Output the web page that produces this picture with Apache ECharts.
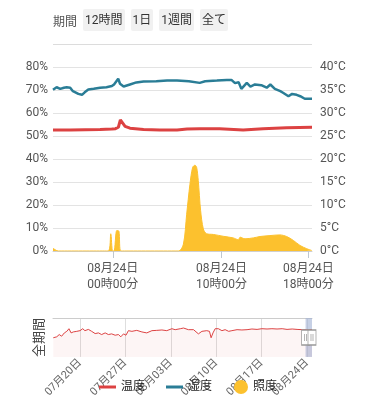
<!DOCTYPE html>
<html>
<head>
<meta charset="utf-8">
<script src="https://cdn.jsdelivr.net/npm/echarts@6/dist/echarts.min.js"></script>
<style>
  html, body { margin: 0; padding: 0; background: #fff; }
  #wrap { position: relative; width: 370px; height: 400px; overflow: hidden; }
  #chart { position: absolute; left: 0; top: 0; width: 370px; height: 400px; }
  #bar { position: absolute; left: 53px; top: 9px; height: 22px; display: flex; align-items: center;
         font-family: Roboto, "Noto Sans CJK JP", sans-serif; font-size: 12px; color: #333; z-index: 2; }
  #bar .lbl { color: #555; margin-right: 6px; }
  #bar .btn { background: #f1f1f1; height: 22px; line-height: 22px; padding: 0 2px; margin-right: 6px; border-radius: 2px; }
  #sep { position: absolute; left: 53px; top: 44px; width: 259px; height: 1px; background: #dcdcdc; z-index: 2; }
</style>
</head>
<body>
<div id="wrap">
  <div id="chart"></div>
  <div id="bar"><span class="lbl">期間</span><span class="btn">12時間</span><span class="btn">1日</span><span class="btn">1週間</span><span class="btn">全て</span></div>
  <div id="sep"></div>
</div>
<script>
// ---- data (year assumed 2023) ----
const windowStart = '08-23 18:30';
const windowEnd = '08-24 18:20';
const mainTicks = ['08-24 00:00', '08-24 10:00', '08-24 18:00'];

const humidityTimes = ['08-23 18:30','08-23 18:50','08-23 19:10','08-23 19:30','08-23 19:45','08-23 20:05','08-23 20:20','08-23 20:50','08-23 21:10','08-23 21:25','08-23 21:45','08-23 22:15','08-23 22:50','08-23 23:25','08-23 23:55','08-24 00:07','08-24 00:16','08-24 00:30','08-24 00:40','08-24 01:00','08-24 01:35','08-24 02:10','08-24 02:50','08-24 04:00','08-24 05:00','08-24 05:55','08-24 07:00','08-24 08:00','08-24 08:30','08-24 09:35','08-24 10:30','08-24 10:55','08-24 11:15','08-24 11:35','08-24 11:50','08-24 12:20','08-24 12:40','08-24 13:05','08-24 13:40','08-24 14:10','08-24 14:30','08-24 14:55','08-24 15:25','08-24 15:40','08-24 16:10','08-24 16:30','08-24 16:55','08-24 17:15','08-24 17:40','08-24 18:20'];
const humidity = [70.1,71.2,70.5,71.0,71.2,71.0,69.5,68.3,67.9,69.0,70.2,70.5,71.0,71.2,71.7,72.4,72.0,74.9,72.7,71.5,72.4,73.3,73.7,73.8,74.1,74.1,73.8,73.1,73.8,74.1,74.4,74.4,73.0,73.4,70.5,73.1,71.5,72.4,72.1,71.0,72.4,70.5,69.5,68.8,67.3,68.3,67.9,67.3,66.2,66.2];

const temperatureTimes = ['08-23 18:30','08-23 20:05','08-23 22:50','08-23 23:55','08-24 00:15','08-24 00:31','08-24 00:42','08-24 00:55','08-24 01:08','08-24 01:35','08-24 02:50','08-24 04:20','08-24 05:55','08-24 06:50','08-24 08:00','08-24 09:50','08-24 12:00','08-24 13:50','08-24 16:00','08-24 18:20'];
const temperature = [26.3,26.3,26.4,26.5,26.6,26.9,28.5,27.8,27.1,26.7,26.4,26.3,26.3,26.5,26.55,26.55,26.3,26.6,26.8,26.9];

const lightTimes = ['08-23 18:30','08-23 18:59','08-23 23:35','08-23 23:49','08-23 23:59','08-24 00:07','08-24 00:22','08-24 00:34','08-24 00:45','08-24 06:02','08-24 06:30','08-24 06:48','08-24 07:06','08-24 07:21','08-24 07:34','08-24 07:43','08-24 07:52','08-24 08:05','08-24 08:20','08-24 08:38','08-24 09:15','08-24 10:10','08-24 11:05','08-24 11:33','08-24 11:43','08-24 12:10','08-24 12:56','08-24 13:33','08-24 14:28','08-24 15:23','08-24 16:00','08-24 16:37','08-24 17:14','08-24 17:51','08-24 18:19'];
const light = [1.2,0,0,7.5,0,0,8.9,8.6,0,0,3.0,16.0,29.0,36.4,37.3,36.4,30.7,17.6,9.6,7.5,7.2,6.4,5.7,4.9,6.0,5.3,5.7,6.3,6.7,7.0,6.3,4.6,2.4,1.0,0.2];

const overviewMin = '07-15 20:00';
const overviewMax = '08-24 18:20';
const overviewTicks = ['07-20 00:00','07-27 00:00','08-03 00:00','08-10 00:00','08-17 00:00','08-24 00:00'];
const overviewTimes = ['07-15 21:00','07-16 10:00','07-16 19:00','07-17 04:00','07-17 14:00','07-17 23:00','07-18 07:00','07-18 15:00','07-18 23:00','07-19 12:00','07-20 00:00','07-20 10:00','07-20 18:00','07-21 07:00','07-21 19:00','07-22 08:00','07-22 20:00','07-23 08:00','07-23 21:00','07-24 09:00','07-24 21:00','07-25 10:00','07-25 22:00','07-26 07:00','07-26 17:00','07-27 02:00','07-27 11:00','07-28 00:00','07-28 18:00','07-29 13:00','07-30 07:00','07-31 02:00','07-31 20:00','08-01 15:00','08-02 09:00','08-03 04:00','08-03 16:00','08-04 11:00','08-04 23:00','08-05 17:00','08-06 12:00','08-07 06:00','08-07 19:00','08-08 13:00','08-08 23:00','08-09 05:00','08-09 12:00','08-09 20:00','08-10 08:00','08-10 21:00','08-11 09:00','08-11 22:00','08-12 10:00','08-13 05:00','08-13 23:00','08-14 18:00','08-15 12:00','08-16 07:00','08-17 01:00','08-17 20:00','08-18 14:00','08-19 09:00','08-20 04:00','08-20 22:00','08-21 17:00','08-22 11:00','08-23 06:00','08-23 22:00','08-24 18:20'];
const overviewTemp = [19.7,20.7,23.0,21.3,24.7,26.3,29.0,24.7,25.7,26.3,27.0,29.0,27.0,28.3,26.3,24.0,24.7,23.0,24.7,23.0,23.7,22.3,23.0,20.7,23.7,22.3,27.0,26.3,27.3,25.7,24.7,27.0,27.3,27.7,27.0,29.0,28.0,29.0,29.7,28.0,28.0,23.7,26.3,27.0,26.3,19.7,24.7,29.0,29.0,27.0,28.0,26.3,27.0,28.0,27.7,28.0,28.7,28.3,29.0,28.7,29.0,28.7,29.0,28.3,28.7,28.3,28.0,28.0,28.0];

const legendNames = ['温度', '湿度', '照度'];

// ---- helpers ----
const toTs = s => new Date('2023-' + s.replace(' ', 'T') + ':00').getTime();
const zip = (ts, vs) => ts.map((t, i) => [toTs(t), vs[i]]);
const p2 = n => String(n).padStart(2, '0');

const FONT = 'Roboto, "Noto Sans CJK JP", sans-serif';
const RED = '#dc4242', TEAL = '#2a7d96', YEL = '#fcc12e';
const legendText = { fontSize: 12, color: '#222', fontFamily: FONT, lineHeight: 14 };

const chart = echarts.init(document.getElementById('chart'), null, { renderer: 'canvas' });
chart.setOption({
  animation: false,
  textStyle: { fontFamily: FONT },
  legend: [
    {
      left: 94, top: 375, itemWidth: 17, itemHeight: 3, itemGap: 21, icon: 'rect',
      textStyle: legendText,
      data: [legendNames[0], legendNames[1]]
    },
    {
      left: 229, top: 375, itemWidth: 14, itemHeight: 14, icon: 'circle',
      textStyle: legendText,
      data: [legendNames[2]]
    }
  ],
  grid: [
    { left: 53, top: 67, width: 259, height: 184 },
    { left: 53, top: 318, width: 259, height: 40 }
  ],
  xAxis: [
    {
      type: 'value', gridIndex: 0, min: toTs(windowStart), max: toTs(windowEnd),
      axisLine: { show: true, lineStyle: { color: '#cfcfcf' } },
      axisTick: { show: true, length: 7, lineStyle: { color: '#bfc7d0' }, customValues: mainTicks.map(toTs) },
      axisLabel: {
        customValues: mainTicks.map(toTs), margin: 10, fontSize: 12, lineHeight: 16, color: '#555',
        formatter: v => { const d = new Date(v); return p2(d.getMonth() + 1) + '月' + p2(d.getDate()) + '日\n' + p2(d.getHours()) + '時' + p2(d.getMinutes()) + '分'; }
      },
      splitLine: { show: false }
    },
    {
      type: 'value', gridIndex: 1, min: toTs(overviewMin), max: toTs(overviewMax),
      axisLine: { show: false },
      axisTick: { show: false, customValues: overviewTicks.map(toTs) },
      axisLabel: {
        customValues: overviewTicks.map(toTs), rotate: 45, margin: 4, fontSize: 11, color: '#666',
        formatter: v => { const d = new Date(v); return p2(d.getMonth() + 1) + '月' + p2(d.getDate()) + '日'; }
      },
      splitLine: { show: true, lineStyle: { color: '#dedede' } }
    },
    {
      type: 'value', gridIndex: 1, position: 'top', min: 0, max: 1,
      axisLine: { show: true, lineStyle: { color: '#cccccc' } },
      axisTick: { show: false }, axisLabel: { show: false }, splitLine: { show: false }
    }
  ],
  yAxis: [
    {
      type: 'value', gridIndex: 0, min: 0, max: 80, interval: 10,
      axisLine: { show: false }, axisTick: { show: false },
      axisLabel: { formatter: '{value}%', margin: 5, fontSize: 12, color: '#555' },
      splitLine: { lineStyle: { color: '#e3e3e3' } }
    },
    {
      type: 'value', gridIndex: 0, min: 0, max: 40, interval: 5, position: 'right',
      axisLine: { show: false }, axisTick: { show: false },
      axisLabel: { formatter: '{value}°C', margin: 8, fontSize: 12, color: '#555' },
      splitLine: { show: false }
    },
    {
      type: 'value', gridIndex: 1, min: 0, max: 40,
      name: '全期間', nameLocation: 'middle', nameGap: 7,
      nameTextStyle: { fontSize: 13, color: '#444', fontFamily: FONT },
      axisLine: { show: false }, axisTick: { show: false }, axisLabel: { show: false }, splitLine: { show: false }
    }
  ],
  series: [
    {
      name: legendNames[0], type: 'line', xAxisIndex: 0, yAxisIndex: 1, symbol: 'none',
      data: zip(temperatureTimes, temperature), color: RED,
      lineStyle: { width: 3, color: RED }, z: 4
    },
    {
      name: legendNames[1], type: 'line', xAxisIndex: 0, yAxisIndex: 0, symbol: 'none',
      data: zip(humidityTimes, humidity), color: TEAL,
      lineStyle: { width: 2.5, color: TEAL }, z: 4
    },
    {
      name: legendNames[2], type: 'line', xAxisIndex: 0, yAxisIndex: 0, symbol: 'none', smooth: 0.3,
      data: zip(lightTimes, light), color: YEL,
      lineStyle: { width: 1, color: YEL }, areaStyle: { color: YEL, opacity: 1 }, z: 3
    },
    {
      name: 'overview', type: 'line', xAxisIndex: 1, yAxisIndex: 2, symbol: 'none',
      data: zip(overviewTimes, overviewTemp), color: RED,
      lineStyle: { width: 1, color: RED }, areaStyle: { color: 'rgba(220,66,66,0.07)' },
      markArea: {
        silent: true,
        itemStyle: { color: 'rgba(160,176,212,0.6)' },
        data: [[{ xAxis: toTs(windowStart) }, { xAxis: toTs(windowEnd) }]]
      },
      markPoint: {
        silent: true,
        symbol: 'path://M0,0H8V15H0Z M3,4V11 M5,4V11',
        symbolSize: [8, 15], symbolKeepAspect: false,
        itemStyle: { color: '#fff', borderColor: '#999', borderWidth: 1 },
        label: { show: false },
        data: [{ coord: [toTs(windowStart), 20] }, { coord: [toTs(windowEnd), 20] }]
      }
    }
  ]
});
</script>
</body>
</html>
